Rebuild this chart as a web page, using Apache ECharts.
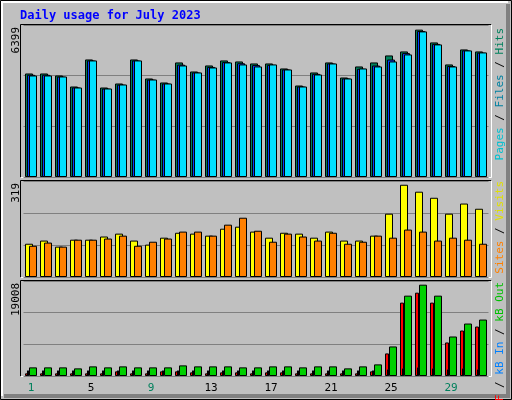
<!DOCTYPE html>
<html>
<head>
<meta charset="utf-8">
<script src="https://cdn.jsdelivr.net/npm/echarts@6/dist/echarts.min.js"></script>
<style>html,body{margin:0;padding:0;background:#c0c0c0}#chart{width:512px;height:400px}</style>
</head>
<body>
<div id="chart"></div>
<script>
var days = ['1','2','3','4','5','6','7','8','9','10','11','12','13','14','15','16','17','18','19','20','21','22','23','24','25','26','27','28','29','30','31'];
var weekend = ['1','2','8','9','15','16','22','23','29','30'];
var hits  = [4495,4495,4408,3930,5104,3886,4060,5104,4278,4104,4974,4582,4843,5061,5017,4930,4930,4713,3973,4539,4974,4321,4800,4974,5278,5452,6399,5844,4887,5539,5452];
var files = [4440,4440,4360,3890,5060,3840,4010,5060,4230,4060,4880,4540,4780,4990,4940,4860,4870,4670,3930,4480,4930,4280,4700,4840,5100,5380,6340,5780,4820,5500,5400];
var pages = [4408,4408,4365,3886,5061,3843,4017,5061,4234,4060,4843,4539,4756,4974,4887,4800,4887,4669,3930,4452,4930,4278,4713,4800,5017,5322,6322,5757,4800,5496,5409];
var visits = [115,126,105,129,129,140,150,126,112,136,153,150,143,167,174,157,136,153,150,136,157,126,126,143,219,319,295,274,219,254,236];
var sites  = [108,119,105,129,129,133,143,108,122,133,157,157,143,181,205,160,122,150,140,126,153,115,122,143,136,164,157,126,136,129,115];
var kbF   = [553,553,553,553,553,553,967,553,553,967,967,760,553,760,760,553,760,760,553,553,553,553,553,967,4699,15271,17344,15271,6979,9467,10296];
var kbIn  = [1175,1175,1175,1175,1175,1175,1175,1175,1175,1175,1175,1175,1175,1175,1175,1175,1175,1175,1175,1175,1175,1175,1175,1175,1382,1589,1797,1589,1382,1589,1382];
var kbOut = [1797,1797,1797,1589,2004,1797,2004,1797,1797,1797,2211,2004,2004,2004,1797,1797,2004,2004,1797,2004,2004,1589,2004,2419,6150,16722,19003,16722,8223,10918,11747];
var maxLabels = ['6399','319','19008'];

var mono = 'DejaVu Sans Mono';
var gl = 23.5, gw = 465;
var panels = [{top:25,h:152,max:6600},{top:181,h:96,max:332},{top:281,h:95,max:19770}];

function xAx(i, show) {
  return {type:'category', gridIndex:i, data:days, boundaryGap:true,
    axisLine:{show:false}, axisTick:{show:false}, splitLine:{show:false},
    axisLabel:{show:show, margin:7, fontFamily:mono, fontSize:11,
      formatter:function(v){ return weekend.indexOf(v) >= 0 ? '{w|'+v+'}' : '{n|'+v+'}'; },
      rich:{w:{color:'#00805c',fontFamily:mono,fontSize:11},n:{color:'#000',fontFamily:mono,fontSize:11}}}};
}
function yAx(i) {
  return {type:'value', gridIndex:i, min:0, max:panels[i].max, interval:panels[i].max/3,
    axisLabel:{show:false}, axisLine:{show:false}, axisTick:{show:false},
    splitLine:{lineStyle:{color:'#808080',width:1}}};
}
function bar(name, data, color, w, gap, xi, yi) {
  return {name:name, type:'bar', data:data, xAxisIndex:xi, yAxisIndex:yi, barWidth:w, barGap:gap,
    animation:false, silent:true,
    itemStyle:{color:color, borderColor:'#000', borderWidth:1}};
}

var gfx = [
  {type:'rect', shape:{x:0.5,y:0.5,width:511,height:399}, style:{fill:'#c0c0c0',stroke:'#000'}, z:-10},
  {type:'polyline', shape:{points:[[2,396],[2,2],[508,2]]}, style:{stroke:'#fff',lineWidth:2,fill:null}, z:-9},
  {type:'polyline', shape:{points:[[508,4],[508,396],[4,396]]}, style:{stroke:'#808080',lineWidth:4,fill:null}, z:-9},
  {type:'text', x:20, y:16, style:{text:'Daily usage for July 2023', fill:'#0000ff', font:'bold 12px "'+mono+'"', verticalAlign:'middle'}}
];
panels.forEach(function(p, i){
  gfx.push({type:'polyline', shape:{points:[[20.5,p.top+p.h+0.5],[20.5,p.top-0.5],[491.5,p.top-0.5]]}, style:{stroke:'#000',lineWidth:1,fill:null}, z:-5});
  gfx.push({type:'polyline', shape:{points:[[491.5,p.top-0.5],[491.5,p.top+p.h+0.5],[20.5,p.top+p.h+0.5]]}, style:{stroke:'#fff',lineWidth:1,fill:null}, z:-5});
  gfx.push({type:'text', x:16, y:p.top+2, rotation:Math.PI/2, style:{text:maxLabels[i], fill:'#000', font:'11px "'+mono+'"', align:'right', verticalAlign:'middle'}});
});
var rl = [
  {y:28, parts:[['Pages','#00c0d0'],[' / ','#000'],['Files','#0080a0'],[' / ','#000'],['Hits','#00805c']]},
  {y:181, parts:[['Sites','#ff8000'],[' / ','#000'],['Visits','#e0e000']]},
  {y:282, parts:[['kB F','#ff0000'],[' / ','#000'],['kB In','#0080ff'],[' / ','#000'],['kB Out','#00c000']]}
];
rl.forEach(function(r){
  var txt = '', rich = {};
  r.parts.forEach(function(pt, k){ txt += '{p'+k+'|'+pt[0]+'}'; rich['p'+k] = {fill:pt[1], font:'11px "'+mono+'"'}; });
  gfx.push({type:'text', x:500, y:r.y, rotation:Math.PI/2, style:{text:txt, rich:rich, align:'right', verticalAlign:'middle'}});
});

var chart = echarts.init(document.getElementById('chart'));
chart.setOption({
  backgroundColor:'#c0c0c0',
  animation:false,
  graphic:gfx,
  grid:panels.map(function(p){ return {left:gl, width:gw, top:p.top, height:p.h}; }).concat([{left:gl, width:gw, top:panels[2].top, height:panels[2].h}]),
  xAxis:[xAx(0,false), xAx(1,false), xAx(2,true), xAx(3,false)],
  yAxis:[yAx(0), yAx(1), yAx(2), {type:'value', gridIndex:3, min:0, max:panels[2].max, show:false, splitLine:{show:false}}],
  series:[
    bar('Hits', hits, '#00805c', 8, '-75%', 0, 0),
    bar('Files', files, '#0040ff', 8, '-75%', 0, 0),
    bar('Pages', pages, '#00e0ff', 8, '-75%', 0, 0),
    bar('Visits', visits, '#ffff00', 8, '-50%', 1, 1),
    bar('Sites', sites, '#ff8000', 8, '-50%', 1, 1),
    bar('kB F', kbF, '#ff0000', 4, 0, 2, 2),
    bar('kB Out', kbOut, '#00d000', 8, 0, 2, 2),
    bar('kB In', kbIn, '#0080ff', 2, 0, 3, 3),
    {type:'bar', data:days.map(function(){return null;}), xAxisIndex:3, yAxisIndex:3, barWidth:6, barGap:0, silent:true}
  ]
});
</script>
</body>
</html>
